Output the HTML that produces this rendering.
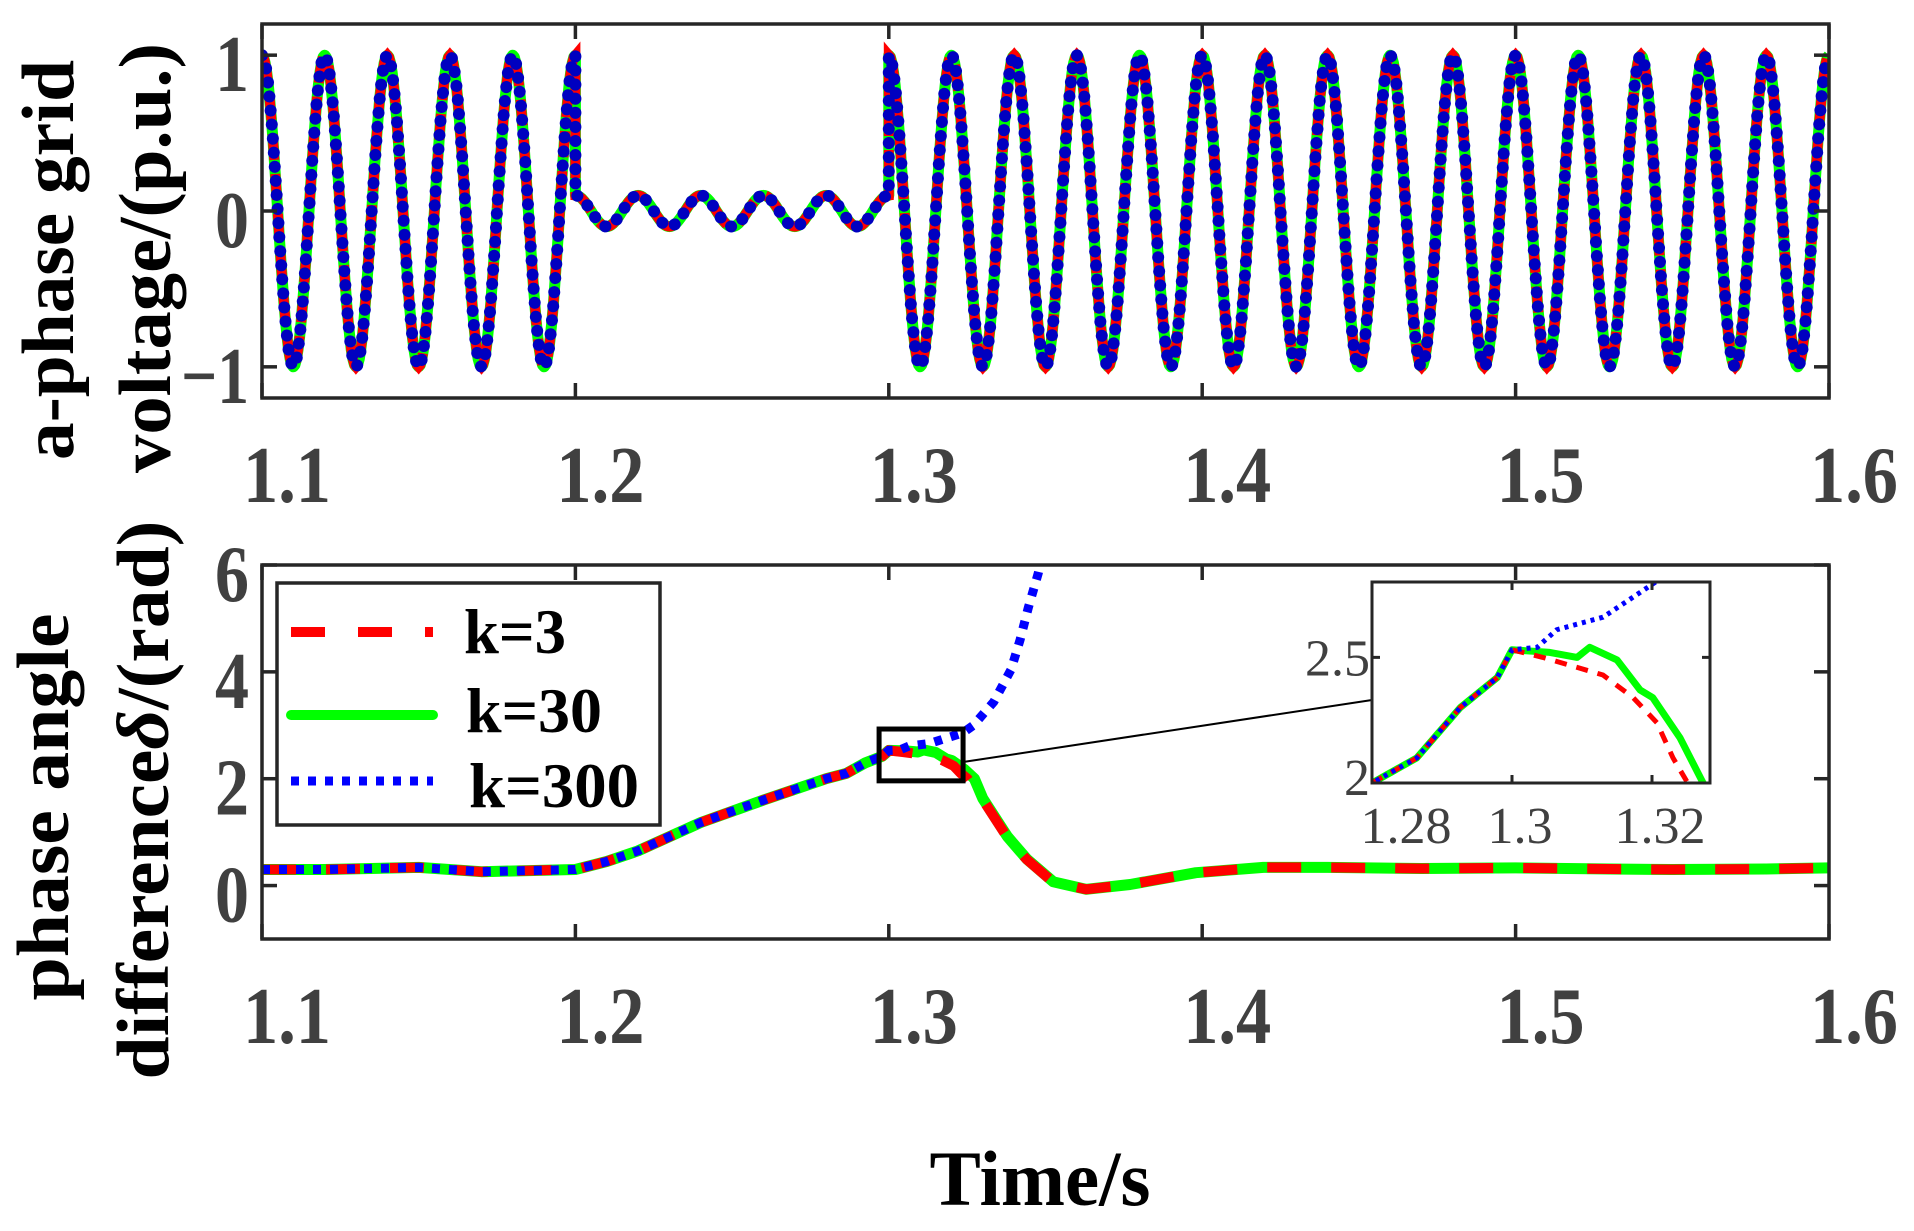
<!DOCTYPE html>
<html><head><meta charset="utf-8"><style>
html,body{margin:0;padding:0;background:#fff;width:1914px;height:1231px;overflow:hidden;}
svg{display:block;}
text{font-family:"Liberation Serif",serif;}
</style></head><body>
<svg id="chart" width="1914" height="1231" viewBox="0 0 1914 1231" xmlns="http://www.w3.org/2000/svg">
<defs>
<clipPath id="clipTop"><rect x="262" y="24" width="1567" height="374"/></clipPath>
<clipPath id="clipBot"><rect x="262" y="565" width="1567" height="374"/></clipPath>
<clipPath id="clipIns"><rect x="1372" y="582" width="338" height="201"/></clipPath>
</defs>
<g id="top"></g>
<g id="bot"></g>
</svg>
<script>
// ---- data ----
const xTicks=[1.1,1.2,1.3,1.4,1.5,1.6];
const xTickLabels=["1.1","1.2","1.3","1.4","1.5","1.6"];
const topYTicks=[-1,0,1];
const topYTickLabels=["-1","0","1"];
const botYTicks=[0,2,4,6];
const botYTickLabels=["0","2","4","6"];
const insXTicks=[1.28,1.3,1.32];
const insXTickLabels=["1.28","1.3","1.32"];
const insYTicks=[2,2.5];
const insYTickLabels=["2","2.5"];
// grid voltage segments (start time, amplitude) at 50 Hz
const segStart=[1.1,1.2,1.3];
const segAmp=[1,0.1,1];
const freqHz=50;
// phase angle difference
const k3T=[1.1,1.12,1.15,1.17,1.2,1.21,1.22,1.24,1.26,1.28,1.2864,1.2926,1.2979,1.3,1.3044,1.3093,1.313,1.3173,1.3207,1.323,1.3251,1.33,1.3378,1.344,1.3525,1.363,1.377,1.398,1.4195,1.44,1.47,1.5,1.53,1.55,1.58,1.6];
const k3V=[0.3,0.3,0.34,0.26,0.3,0.45,0.65,1.18,1.6,2.0,2.1,2.3,2.42,2.53,2.50,2.46,2.43,2.34,2.24,2.1,2.0,1.61,0.9,0.49,0.06,-0.07,0.02,0.24,0.34,0.34,0.32,0.33,0.31,0.30,0.31,0.33];
const k30T=[1.1,1.12,1.15,1.17,1.2,1.21,1.22,1.24,1.26,1.28,1.2864,1.2926,1.2979,1.3,1.3054,1.3093,1.3111,1.315,1.3183,1.3201,1.324,1.3273,1.33,1.3378,1.344,1.3525,1.363,1.377,1.398,1.4195,1.44,1.47,1.5,1.53,1.55,1.58,1.6];
const k30V=[0.3,0.3,0.34,0.26,0.3,0.45,0.65,1.18,1.6,2.0,2.1,2.3,2.42,2.53,2.52,2.50,2.54,2.49,2.37,2.34,2.18,2.0,1.63,0.92,0.5,0.07,-0.07,0.02,0.24,0.34,0.34,0.32,0.33,0.31,0.30,0.31,0.33];
const k300T=[1.1,1.12,1.15,1.17,1.2,1.21,1.22,1.24,1.26,1.28,1.2864,1.2926,1.2979,1.3,1.3036,1.3064,1.313,1.32,1.3236,1.327,1.3335,1.339,1.3419,1.3445,1.3477,1.349];
const k300V=[0.3,0.3,0.34,0.26,0.3,0.45,0.65,1.18,1.6,2.0,2.1,2.3,2.42,2.53,2.54,2.61,2.66,2.79,2.86,3.0,3.44,4.04,4.6,5.2,5.85,6.2];
const zoomBoxT=[1.2969,1.3237];
const zoomBoxV=[1.96,2.93];

// ---- axes ----
const NS="http://www.w3.org/2000/svg";
const X0=262,X1=1829;
const xS=t=>X0+(t-1.1)/0.5*(X1-X0);
const TY0=24,TY1=398; const yTop=v=>TY1-(v+1.2)/2.4*(TY1-TY0);
const BY0=565,BY1=939; const yBot=v=>BY1-(v+1)/7*(BY1-BY0);
const IX0=1372,IX1=1710,IY0=582,IY1=783;
const xIns=t=>IX0+(t-1.28)/0.02*140;
const yIns=v=>IY1-(v-2)/0.8*(IY1-IY0);
const svg=document.getElementById('chart');
function mk(tag,attrs,parent){const e=document.createElementNS(NS,tag);for(const k in attrs)e.setAttribute(k,attrs[k]);(parent||svg).appendChild(e);return e;}
function pathFrom(ts,vs,fx,fy){return ts.map((t,i)=>(i?'L':'M')+fx(t).toFixed(1)+','+fy(vs[i]).toFixed(1)).join('');}

// top waveform samples
function volt(t){let s=0;for(let i=0;i<segStart.length;i++)if(t>=segStart[i]-1e-9)s=i;return segAmp[s]*Math.cos(2*Math.PI*freqHz*(t-segStart[s]));}
const wT=[],wV=[];
for(let i=0;i<=1000;i++){const t=1.1+i*0.0005;
 const p=segStart.findIndex(s=>Math.abs(t-s)<1e-9);
 if(p>0){wT.push(t);wV.push(segAmp[p-1]*Math.cos(2*Math.PI*freqHz*(t-segStart[p-1])));}
 wT.push(t);wV.push(volt(t));}

const gTop=document.getElementById('top');
const gBot=document.getElementById('bot');
const fr=(g,x,y,w,h,name,sw)=>{const r=mk('rect',{x:x,y:y,width:w,height:h,fill:'none',stroke:'#262626','stroke-width':sw},g);return r;};

// top series
const tc=mk('g',{'clip-path':'url(#clipTop)'},gTop);
let e;
e=mk('path',{d:pathFrom(wT,wV,xS,yTop),fill:'none',stroke:'#00ff00','stroke-width':11,'stroke-linejoin':'round'},tc);

e=mk('path',{d:pathFrom(wT,wV,xS,yTop),fill:'none',stroke:'#ff0000','stroke-width':10,'stroke-dasharray':'26 14'},tc);

e=mk('path',{d:pathFrom(wT,wV,xS,yTop),fill:'none',stroke:'#0000c0','stroke-width':12,'stroke-dasharray':'0.1 14','stroke-linecap':'round'},tc);

fr(gTop,X0,TY0,X1-X0,TY1-TY0,'top-plot-frame',3.5);

// bottom series
const bc=mk('g',{'clip-path':'url(#clipBot)'},gBot);
e=mk('path',{d:pathFrom(k30T,k30V,xS,yBot),fill:'none',stroke:'#00ff00','stroke-width':11,'stroke-linejoin':'round'},bc);

e=mk('path',{d:pathFrom(k3T,k3V,xS,yBot),fill:'none',stroke:'#ff0000','stroke-width':10,'stroke-dasharray':'34 30'},bc);

e=mk('path',{d:pathFrom(k300T,k300V,xS,yBot),fill:'none',stroke:'#0000ff','stroke-width':9,'stroke-dasharray':'8 9'},bc);

fr(gBot,X0,BY0,X1-X0,BY1-BY0,'bottom-plot-frame',3.5);

// ticks & labels main
function xAxis(g,y0,y1,base,pre){xTicks.forEach((t,i)=>{const x=xS(t);
 mk('line',{x1:x,y1:y1,x2:x,y2:y1-15,stroke:'#262626','stroke-width':3.5},g);
 mk('line',{x1:x,y1:y0,x2:x,y2:y0+15,stroke:'#262626','stroke-width':3.5},g);
 const tx=mk('text',{x:x+25,y:base,'text-anchor':'middle','font-size':80,'font-weight':'bold',fill:'#404040',textLength:88,lengthAdjust:'spacingAndGlyphs'},g);tx.textContent=xTickLabels[i];
 });}
xAxis(gTop,TY0,TY1,502,'top');xAxis(gBot,BY0,BY1,1043,'bottom');
function yAxis(g,ticks,labels,fy,pre){ticks.forEach((v,i)=>{const y=fy(v);
 mk('line',{x1:X0,y1:y,x2:X0+15,y2:y,stroke:'#262626','stroke-width':3.5},g);
 mk('line',{x1:X1,y1:y,x2:X1-15,y2:y,stroke:'#262626','stroke-width':3.5},g);
 const tx=mk('text',{x:249,y:y+36,'text-anchor':'end','font-size':80,'font-weight':'bold',fill:'#404040',textLength:labels[i].length*34,lengthAdjust:'spacingAndGlyphs'},g);tx.textContent=labels[i].replace('-','\u2212');
 });}
yAxis(gTop,topYTicks,topYTickLabels,yTop,'top');yAxis(gBot,botYTicks,botYTickLabels,yBot,'bottom');

// zoom box and connector
e=mk('rect',{x:xS(zoomBoxT[0]),y:yBot(zoomBoxV[1]),width:xS(zoomBoxT[1])-xS(zoomBoxT[0]),height:yBot(zoomBoxV[0])-yBot(zoomBoxV[1]),fill:'none',stroke:'#000','stroke-width':5},gBot);

e=mk('line',{x1:xS(zoomBoxT[1]),y1:762,x2:IX0,y2:700,stroke:'#000','stroke-width':2},gBot);


// inset
const ins=mk('g',{},gBot);

mk('rect',{x:IX0,y:IY0,width:IX1-IX0,height:IY1-IY0,fill:'#fff'},ins);
const ic=mk('g',{'clip-path':'url(#clipIns)'},ins);
e=mk('path',{d:pathFrom(k30T,k30V,xIns,yIns),fill:'none',stroke:'#00ff00','stroke-width':7,'stroke-linejoin':'round'},ic);

e=mk('path',{d:pathFrom(k3T,k3V,xIns,yIns),fill:'none',stroke:'#ff0000','stroke-width':5,'stroke-dasharray':'12 10'},ic);

e=mk('path',{d:pathFrom(k300T,k300V,xIns,yIns),fill:'none',stroke:'#0000ff','stroke-width':5,'stroke-dasharray':'4 5'},ic);

fr(ins,IX0,IY0,IX1-IX0,IY1-IY0,'inset-frame',3);
insXTicks.forEach((t,i)=>{const x=xIns(t);
 if(i>0){mk('line',{x1:x,y1:IY1,x2:x,y2:IY1-8,stroke:'#262626','stroke-width':3},ins);
 mk('line',{x1:x,y1:IY0,x2:x,y2:IY0+8,stroke:'#262626','stroke-width':3},ins);}
 const tx=mk('text',{x:x+(i===0?34:8),y:843,'text-anchor':'middle','font-size':52,fill:'#404040'},ins);tx.textContent=insXTickLabels[i];
 });
insYTicks.forEach((v,i)=>{const y=yIns(v);
 if(i>0){mk('line',{x1:IX0,y1:y,x2:IX0+8,y2:y,stroke:'#262626','stroke-width':3},ins);
 mk('line',{x1:IX1,y1:y,x2:IX1-8,y2:y,stroke:'#262626','stroke-width':3},ins);}
 const tx=mk('text',{x:1370,y:y+(i===0?12:18),'text-anchor':'end','font-size':52,fill:'#404040'},ins);tx.textContent=insYTickLabels[i];
 });

// legend
const lg=mk('g',{},gBot);

mk('rect',{x:277,y:583,width:383,height:242,fill:'#fff',stroke:'#262626','stroke-width':3.5},lg);
const legY=[632,715,781],legTX=[464,466,469],legTY=[653,732,807],legL=['k=3','k=30','k=300'];
const legStyle=[{stroke:'#ff0000','stroke-width':10,'stroke-dasharray':'34 33'},{stroke:'#00ff00','stroke-width':10,'stroke-linecap':'round'},{stroke:'#0000ff','stroke-width':9,'stroke-dasharray':'8 9'}];
const legNames=['legend-entry-k3','legend-entry-k30','legend-entry-k300'];
for(let i=0;i<3;i++){const a=Object.assign({x1:291,y1:legY[i],x2:433,y2:legY[i]},legStyle[i]);
 e=mk('line',a,lg);
 const tx=mk('text',{x:legTX[i],y:legTY[i],'font-size':64,'font-weight':'bold',fill:'#000',textLength:legL[i].length*34,lengthAdjust:'spacingAndGlyphs'},lg);tx.textContent=legL[i];
 }

// axis titles
function vtitle(x,cy,len,name,size){const t=mk('text',{x:x,y:cy,transform:`rotate(-90 ${x} ${cy})`,'text-anchor':'middle','font-size':size,'font-weight':'bold',fill:'#000',textLength:len,lengthAdjust:'spacingAndGlyphs'});
 return t;}
vtitle(73,260,400,'top-y-axis-title-line1',74).textContent='a-phase grid';
vtitle(170,258,430,'top-y-axis-title-line2',74).textContent='voltage/(p.u.)';
vtitle(68,807,387,'bottom-y-axis-title-line1',74).textContent='phase angle';
const l2=vtitle(168,800,559,'bottom-y-axis-title-line2',74);
l2.innerHTML='difference<tspan font-style="italic">δ</tspan>/(rad)';
const xt=mk('text',{x:1040,y:1205,'text-anchor':'middle','font-size':78,'font-weight':'bold',fill:'#000',textLength:221,lengthAdjust:'spacingAndGlyphs'});
xt.textContent='Time/s';

</script>
</body></html>
